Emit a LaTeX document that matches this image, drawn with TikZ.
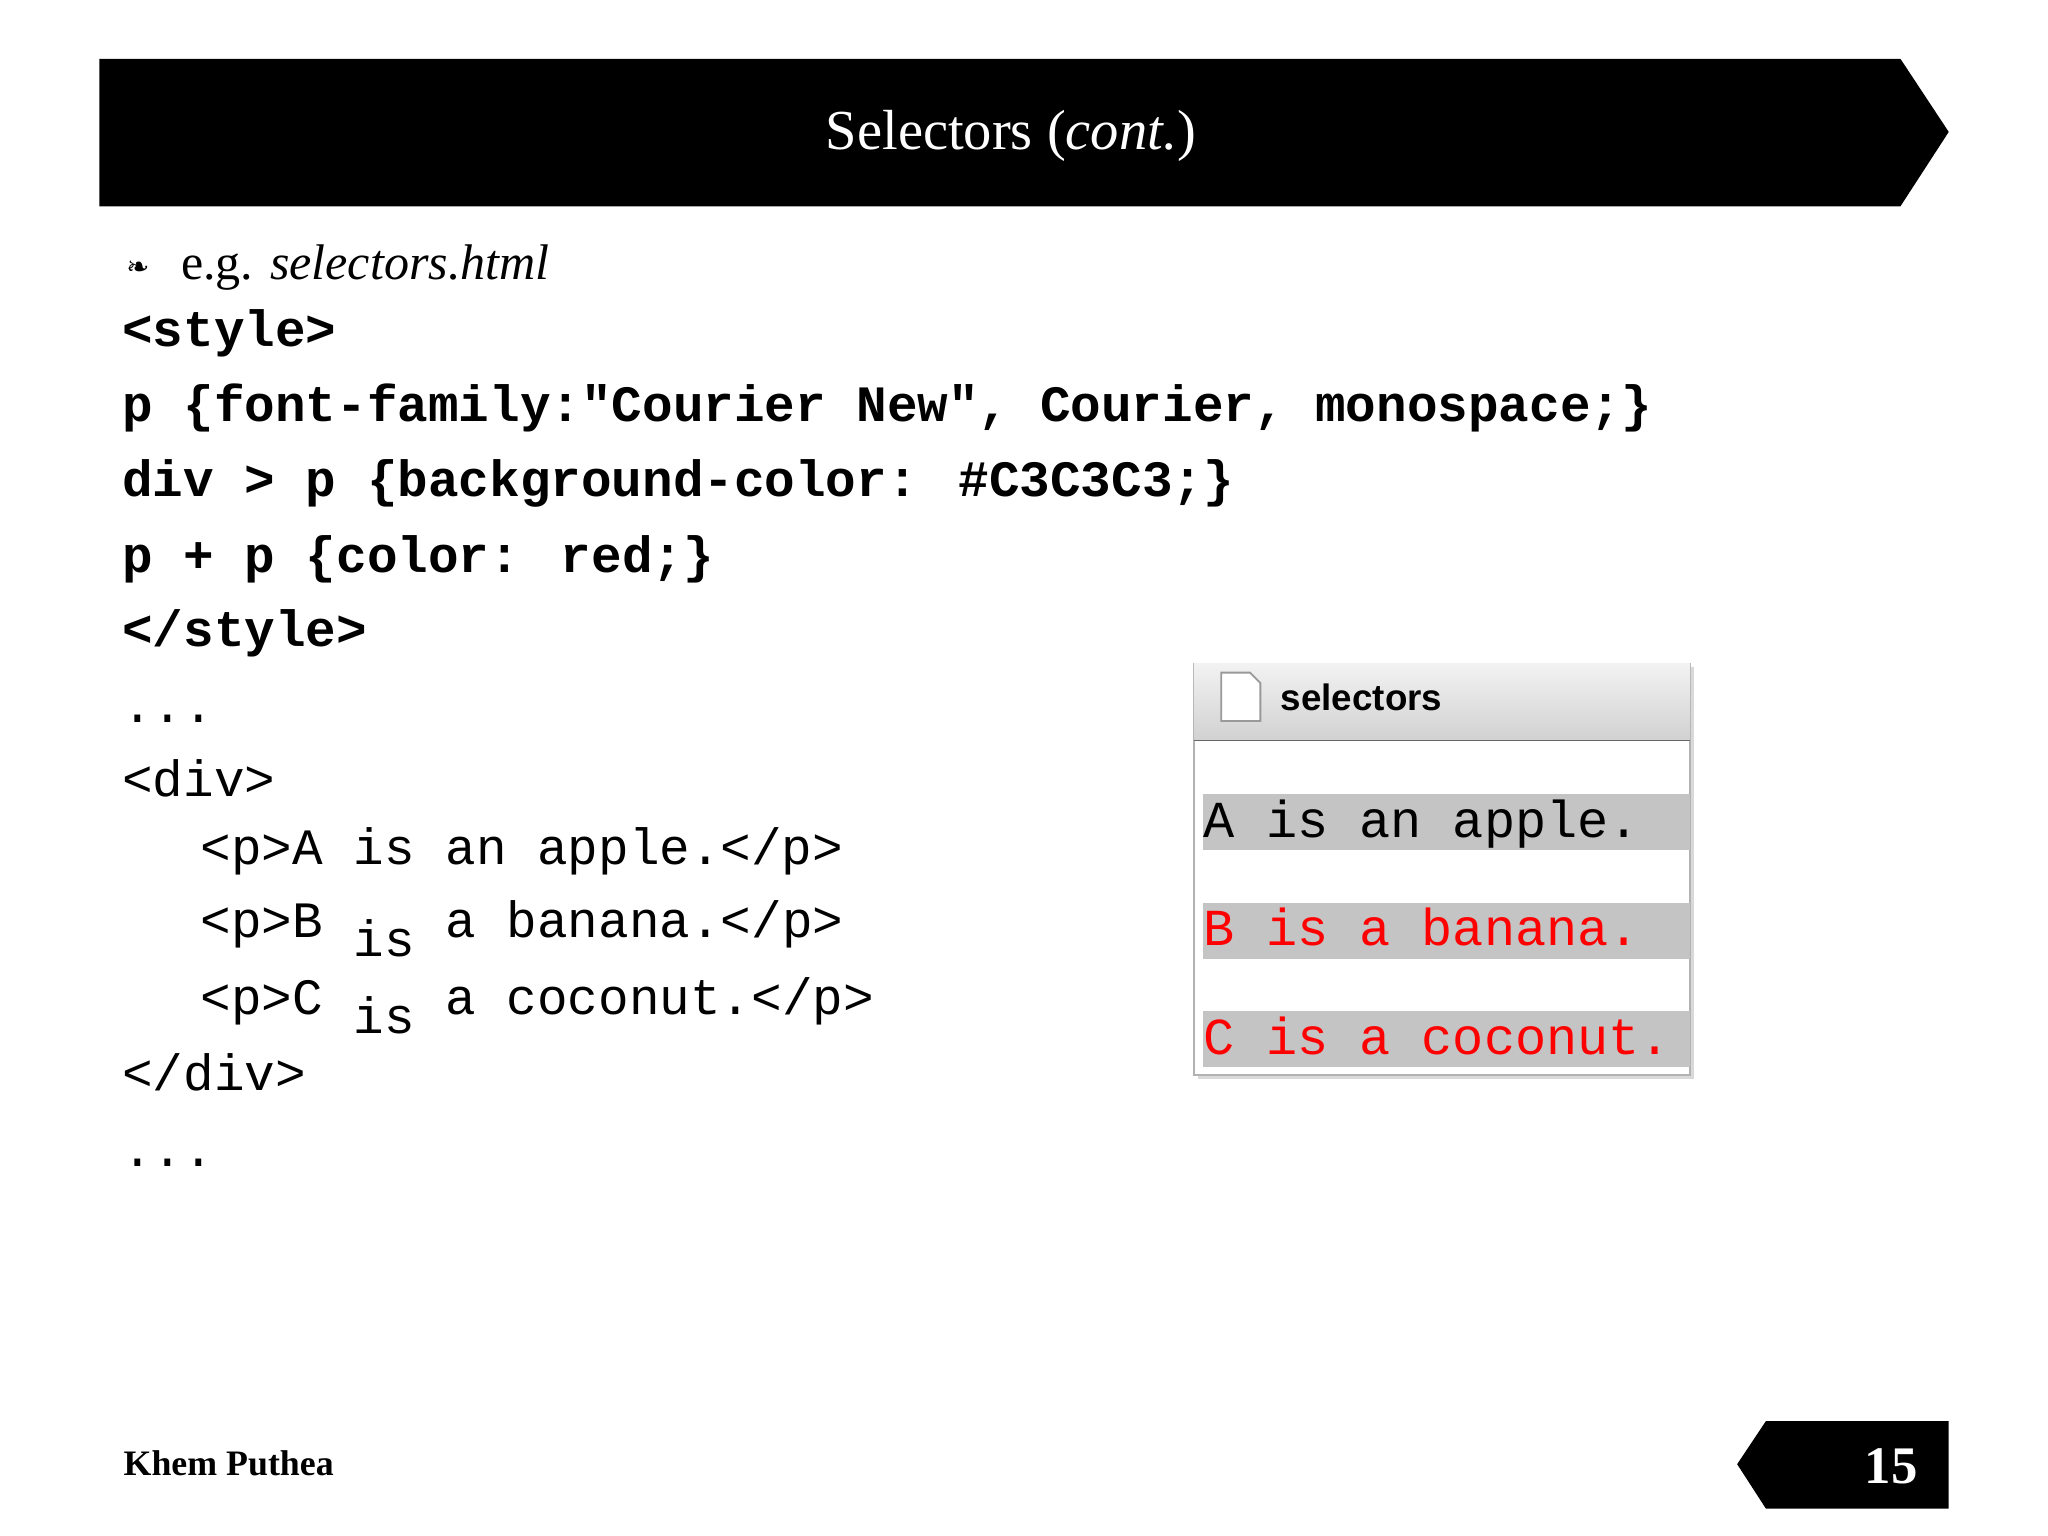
\documentclass[tikz,border=0pt]{standalone}
\usepackage{fontspec}
\setmainfont{Liberation Serif}
\newfontfamily\cmono{Liberation Mono}
\newfontfamily\djvfont{DejaVu Sans}
\newfontfamily\ssf{Liberation Sans}
\begin{document}
\begin{tikzpicture}[x=0.01cm,y=-0.01cm,
  code/.style={anchor=base west,inner sep=0,font=\cmono\bfseries\fontsize{11.1pt}{12pt}\selectfont},
  codel/.style={anchor=base west,inner sep=0,font=\cmono\fontsize{11.1pt}{12pt}\selectfont},
  brow/.style={anchor=base west,inner sep=0,font=\cmono\fontsize{11.3pt}{12pt}\selectfont}]
\useasboundingbox (0,0) rectangle (1568,1176);
\fill[white] (0,0) rectangle (1568,1176);
% title bar
\fill[black] (76,45) -- (1455,45) -- (1492,101) -- (1455,158) -- (76,158) -- cycle;
\node[text=white,font=\fontsize{12.3pt}{14pt}\selectfont] (title) at (774,104) {Selectors (\textit{cont.})};
% bullet
\node[anchor=base west,inner sep=0,font=\djvfont\fontsize{6pt}{7pt}\selectfont] (bul) at (96,212) {❧};
\node[anchor=base west,inner sep=0,font=\fontsize{10.9pt}{12pt}\selectfont] (eg) at (138,214) {e.g. \textit{selectors.html}};
\node[code] (c1) at (93,265) {<style>};
\node[code] (c2) at (93,323) {p \{font-family:"Courier New", Courier, monospace;\}};
\node[code] (c3) at (93,380) {div > p \{background-color: \#C3C3C3;\}};
\node[code] (c4) at (93,438) {p + p \{color: red;\}};
\node[code] (c5) at (93,495) {</style>};
\node[codel] (l1) at (93,553) {...};
\node[codel] (l2) at (93,610) {<div>};
\node[codel] (l3) at (153,662) {<p>A is an apple.</p>};
\node[codel] (l4) at (153,718) {<p>B \raisebox{-4pt}{is} a banana.</p>};
\node[codel] (l5) at (153,777) {<p>C \raisebox{-4pt}{is} a coconut.</p>};
\node[codel] (l6) at (93,835) {</div>};
\node[codel] (l7) at (93,893) {...};
% browser window
\fill[black!15] (917,511) rectangle (1297,826);
\draw[black!30,fill=white] (914,508) rectangle (1294,823);
\shade[top color=black!5,bottom color=black!18] (914,508) rectangle (1294,567);
\draw[black!60] (914,567) -- (1294,567);
\draw[black!40,fill=white] (935,515) -- (957,515) -- (965,523) -- (965,552) -- (935,552) -- cycle;
\node[anchor=base west,inner sep=0,font=\ssf\bfseries\fontsize{8pt}{9pt}\selectfont] (wt) at (980,544) {selectors};
\fill[black!23] (921,608) rectangle (1294,651);
\fill[black!23] (921,691) rectangle (1294,734);
\fill[black!23] (921,774) rectangle (1294,817);
\node[brow] (r1) at (921,641) {A is an apple.};
\node[brow,text=red] (r2) at (921,724) {B is a banana.};
\node[brow,text=red] (r3) at (921,807) {C is a coconut.};
% footer
\node[anchor=base west,inner sep=0,font=\bfseries\fontsize{7.8pt}{9pt}\selectfont] (auth) at (94,1130) {Khem Puthea};
\fill[black] (1352,1088) -- (1492,1088) -- (1492,1155) -- (1352,1155) -- (1330,1121) -- cycle;
\node[text=white,font=\bfseries\fontsize{11.5pt}{13pt}\selectfont] (pg) at (1448,1123) {15};
\end{tikzpicture}
\end{document}
